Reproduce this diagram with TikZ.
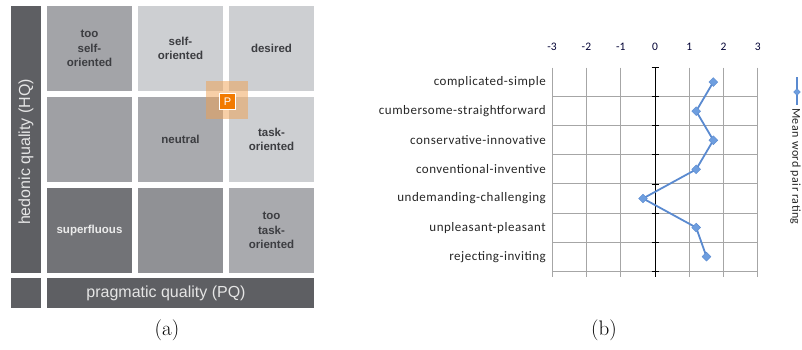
\documentclass[tikz,border=0pt]{standalone}
\usepackage{xcolor}
\usepackage{fontspec}
\usepackage{tikz}
\usetikzlibrary{shapes.geometric}
\newfontfamily\arialfont{Liberation Sans}
\newfontfamily\calfont[LetterSpace=4]{Carlito}
\newfontfamily\calplain{Carlito}
\definecolor{bardark}{HTML}{5E5F63}
\definecolor{cellA}{HTML}{A3A4A8}
\definecolor{cellB}{HTML}{CDCFD2}
\definecolor{cellC}{HTML}{9FA0A4}
\definecolor{cellD}{HTML}{A9AAAE}
\definecolor{cellE}{HTML}{727377}
\definecolor{cellF}{HTML}{909195}
\definecolor{celltext}{HTML}{3C3D41}
\definecolor{porange}{HTML}{F0A050}
\definecolor{pbox}{HTML}{F27A00}
\definecolor{gridgray}{HTML}{A6A6A6}
\definecolor{series}{HTML}{5A8AD0}
\definecolor{markblue}{HTML}{6E9EDF}

\begin{document}
\begin{tikzpicture}[x=1pt,y=-1pt,
		cell/.style={minimum width=85pt,minimum height=85pt,inner sep=0pt},
		celllabel/.style={align=center,inner sep=0pt,text=celltext,
			font=\arialfont\bfseries\fontsize{11.5}{14.5}\selectfont},
		bar/.style={fill=bardark,inner sep=0pt},
		catlabel/.style={anchor=east,inner sep=0pt,font=\calfont\fontsize{13}{15}\selectfont,text=black!85},
		ticklabel/.style={inner sep=0pt,font=\calplain\fontsize{11.5}{13}\selectfont,text=black!80!blue},
		gridline/.style={draw=gridgray,line width=0.9pt},
		datamark/.style={diamond,fill=markblue,draw=series,line width=0.4pt,inner sep=0pt,minimum size=9pt}]

		\useasboundingbox (0,0) rectangle (802,349);

		% (a) quadrant chart
		\node[bar,minimum width=30pt,minimum height=267pt] (hq) at (26,139.5) {};
		\node[bar,minimum width=30pt,minimum height=30pt] (corner) at (26,293) {};
		\node[bar,minimum width=267pt,minimum height=30pt] (pq) at (180.5,293) {};
		\node[rotate=90,text=white!90!black,font=\arialfont\fontsize{16}{18}\selectfont] (hqlabel) at (26,152) {hedonic quality (HQ)};
		\node[text=white!90!black,font=\arialfont\fontsize{16}{18}\selectfont] (pqlabel) at (166,293) {pragmatic quality (PQ)};

		\foreach \Name/\X/\Y/\Col in {
			tooself/89.5/48.5/cellA, self/180.5/48.5/cellB, desired/271.5/48.5/cellB,
			midleft/89.5/139.5/cellC, neutral/180.5/139.5/cellD, task/271.5/139.5/cellB,
			superfluous/89.5/230.5/cellE, lowmid/180.5/230.5/cellF, tootask/271.5/230.5/cellD}{
			\node[cell,fill=\Col] (\Name) at (\X,\Y) {};
		};
		\node[celllabel] (tooselftext) at (tooself) {too\\self-\\oriented};
		\node[celllabel] (selftext) at (self) {self-\\oriented};
		\node[celllabel] (desiredtext) at (desired) {desired};
		\node[celllabel] (neutraltext) at (neutral) {neutral};
		\node[celllabel] (tasktext) at (task) {task-\\oriented};
		\node[celllabel,text=white!92!black] (superfluoustext) at (superfluous) {superfluous};
		\node[celllabel] (tootasktext) at (tootask) {too\\task-\\oriented};

		\node[fill=porange,fill opacity=0.5,minimum width=42pt,minimum height=38pt,inner sep=0pt] (hl) at (227,100) {};
		\node[fill=pbox,draw=white,line width=1.2pt,minimum size=16pt,inner sep=0pt,text=white,
			font=\arialfont\fontsize{11}{11}\selectfont] (pnode) at (227.5,101.5) {P};

		\node[font=\fontsize{21}{24}\selectfont] (capa) at (167,330) {(a)};

		% (b) word pair ratings
		\foreach \V [count=\I] in {-3,...,3}{
			\pgfmathsetmacro{\Px}{655+34.3*\V}
			\ifnum\V=0\else\draw[gridline] (\Px,67.5) -- (\Px,277);\fi
			\node[ticklabel] (tick\I) at (\Px,47) {\V};
		};
		\foreach \K in {1,...,7}{
			\draw[gridline] (552,{67.5+29.1*\K}) -- (758,{67.5+29.1*\K});
		};
		\draw[black,line width=0.8pt] (655,67.5) -- (655,277);
		\foreach \K in {0,...,7}{
			\draw[black,line width=0.8pt] (651.5,{67.5+29.1*\K}) -- (658.5,{67.5+29.1*\K});
		};

		\foreach \Text/\Val [count=\I] in {
			complicated-simple/1.7, cumbersome-straightforward/1.2, conservative-innovative/1.7,
			conventional-inventive/1.2, undemanding-challenging/-0.35, unpleasant-pleasant/1.2,
			rejecting-inviting/1.5}{
			\node[catlabel] (cat\I) at (546,{67.5+29.1*\I-14.55}) {\Text};
			\coordinate (p\I) at ({655+34.3*\Val},{67.5+29.1*\I-14.55});
		};
		\draw[series,line width=1.8pt,line join=round] (p1) -- (p2) -- (p3) -- (p4) -- (p5) -- (p6) -- (p7);
		\foreach \I in {1,...,7}{
			\node[datamark] (m\I) at (p\I) {};
		};

		% legend
		\coordinate (legtop) at (797,77);
		\coordinate (legbot) at (797,105);
		\draw[series,line width=1.5pt] (legtop) -- (legbot);
		\node[datamark,minimum size=7pt] (legmark) at (797,92) {};
		\node[rotate=-90,anchor=west,inner sep=0pt,font=\calfont\fontsize{12}{14}\selectfont,text=black!85] (legtext) at (795.5,108) {Mean word pair rating};

		\node[font=\fontsize{21}{24}\selectfont] (capb) at (604,330) {(b)};

		\end{tikzpicture}
\end{document}
